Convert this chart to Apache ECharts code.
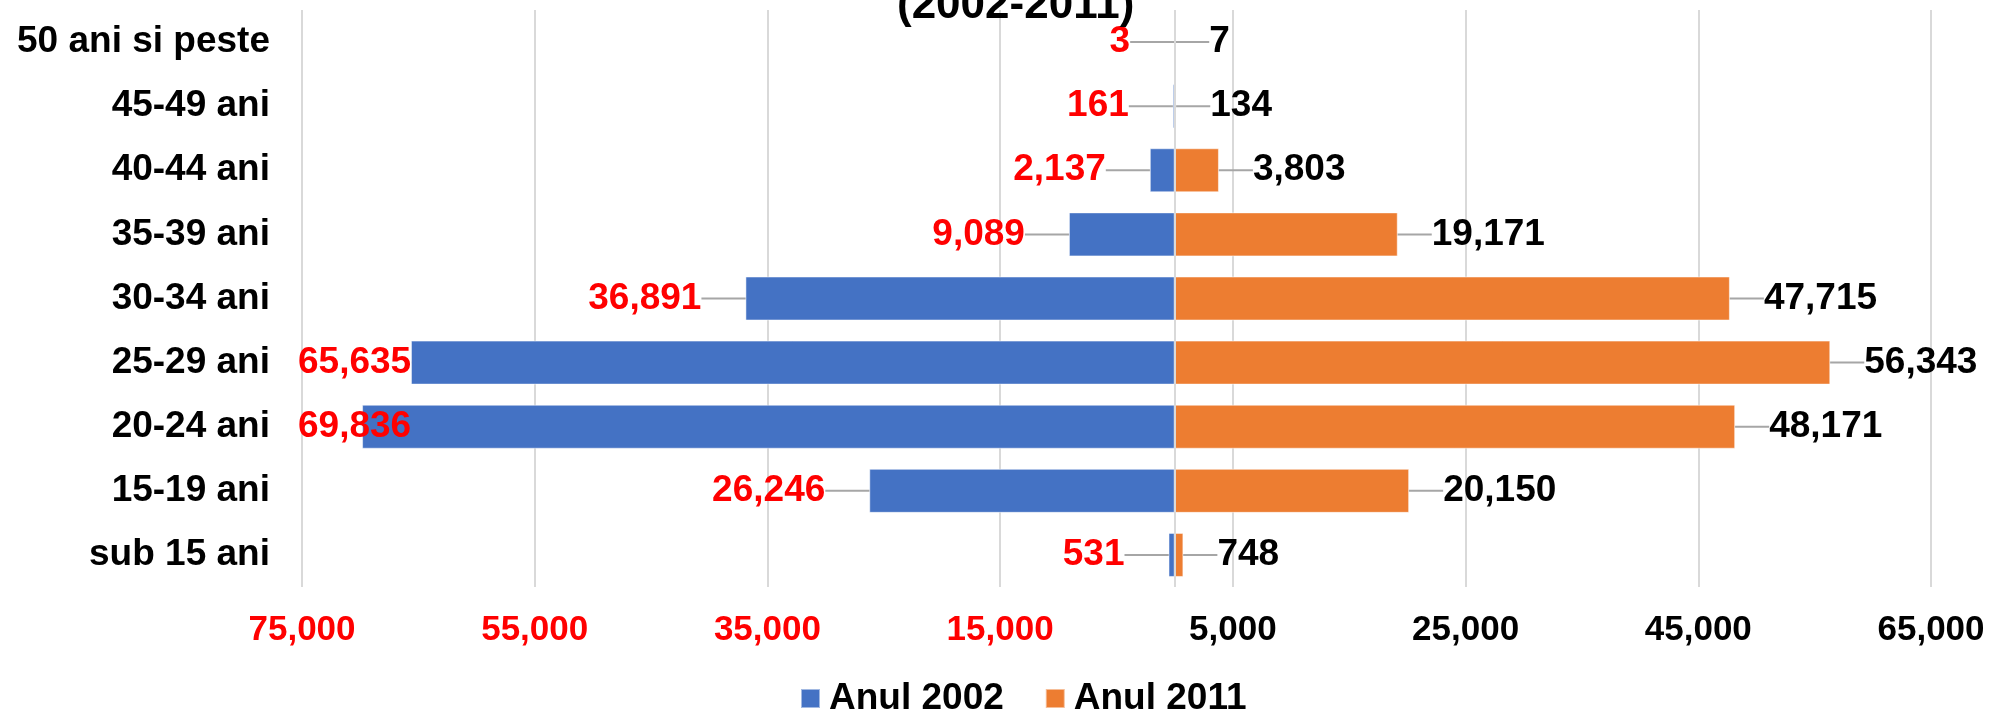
<!DOCTYPE html>
<html>
<head>
<meta charset="utf-8">
<script src="https://cdn.jsdelivr.net/npm/echarts@6/dist/echarts.min.js"></script>
<style>
  html, body { margin: 0; padding: 0; background: #fff; }
  #chart { width: 1992px; height: 716px; }
</style>
</head>
<body>
<div id="chart"></div>
<script>
// categorii de varsta, de jos in sus
const ageGroups = ['sub 15 ani', '15-19 ani', '20-24 ani', '25-29 ani', '30-34 ani',
                   '35-39 ani', '40-44 ani', '45-49 ani', '50 ani si peste'];
const year2002 = [531, 26246, 69836, 65635, 36891, 9089, 2137, 161, 3];
const year2011 = [748, 20150, 48171, 56343, 47715, 19171, 3803, 134, 7];
const seriesNames = ['Anul 2002', 'Anul 2011'];

const axisMin = -75000;
const axisMax = 65000;
const axisStep = 20000;

const fmt = v => Math.abs(v).toLocaleString('en-US');
const boldArial = 'Liberation Sans, Arial, sans-serif';

const myChart = echarts.init(document.getElementById('chart'));

myChart.setOption({
    animation: false,
    title: {
        text: '(2002-2011)',
        left: 897,
        top: -16,
        padding: 0,
        textStyle: { fontFamily: boldArial, fontWeight: 'bold', fontSize: 44, color: '#000' }
    },
    legend: {
        data: seriesNames,
        left: 800,
        top: 680,
        padding: 0,
        icon: 'rect',
        itemWidth: 19,
        itemHeight: 19,
        itemGap: 41,
        textStyle: { fontFamily: boldArial, fontWeight: 'bold', fontSize: 37, color: '#000', padding: [0, 0, 0, 4] }
    },
    grid: { left: 302, right: 61, top: 10, bottom: 129, containLabel: false },
    xAxis: {
        type: 'value',
        min: axisMin,
        max: axisMax,
        interval: axisStep,
        axisLine: { show: false },
        axisTick: { show: false },
        splitLine: { lineStyle: { color: '#d9d9d9', width: 2 } },
        axisLabel: {
            margin: 26,
            fontFamily: boldArial,
            fontWeight: 'bold',
            fontSize: 35,
            formatter: fmt,
            color: v => (v < 0 ? '#ff0000' : '#000000')
        }
    },
    yAxis: {
        type: 'category',
        data: ageGroups,
        axisLine: { show: false },
        axisTick: { show: false },
        axisLabel: { margin: 32, fontFamily: boldArial, fontWeight: 'bold', fontSize: 37, color: '#000' }
    },
    series: [{
        name: seriesNames[0],
        type: 'bar',
        stack: 'total',
        barWidth: 44,
        data: year2002.map(v => -v),
        itemStyle: { color: '#4472C4', borderColor: 'rgba(255,255,255,0.5)', borderWidth: 1 },
        label: {
            show: true,
            position: 'left',
            distance: 4,
            formatter: p => fmt(p.value),
            fontFamily: boldArial,
            fontWeight: 'bold',
            fontSize: 37,
            color: '#ff0000'
        },
        labelLine: { show: true, lineStyle: { color: '#a6a6a6', width: 2 } },
        labelLayout: function (params) {
            let dx = -40;
            // nu iesim din zona graficului
            if (params.labelRect.x + dx < 298) {
                dx = 298 - params.labelRect.x;
            }
            return { dx: dx };
        },
        markLine: {
            silent: true,
            symbol: ['none', 'none'],
            label: { show: false },
            lineStyle: { color: '#d9d9d9', width: 2, type: 'solid' },
            data: [{ xAxis: 0 }]
        }
    }, {
        name: seriesNames[1],
        type: 'bar',
        stack: 'total',
        barWidth: 44,
        data: year2011,
        itemStyle: { color: '#ED7D31', borderColor: 'rgba(255,255,255,0.5)', borderWidth: 1 },
        label: {
            show: true,
            position: 'right',
            distance: 4,
            formatter: p => fmt(p.value),
            fontFamily: boldArial,
            fontWeight: 'bold',
            fontSize: 37,
            color: '#000'
        },
        labelLine: { show: true, lineStyle: { color: '#a6a6a6', width: 2 } },
        labelLayout: { dx: 30 }
    }]
});
</script>
</body>
</html>
